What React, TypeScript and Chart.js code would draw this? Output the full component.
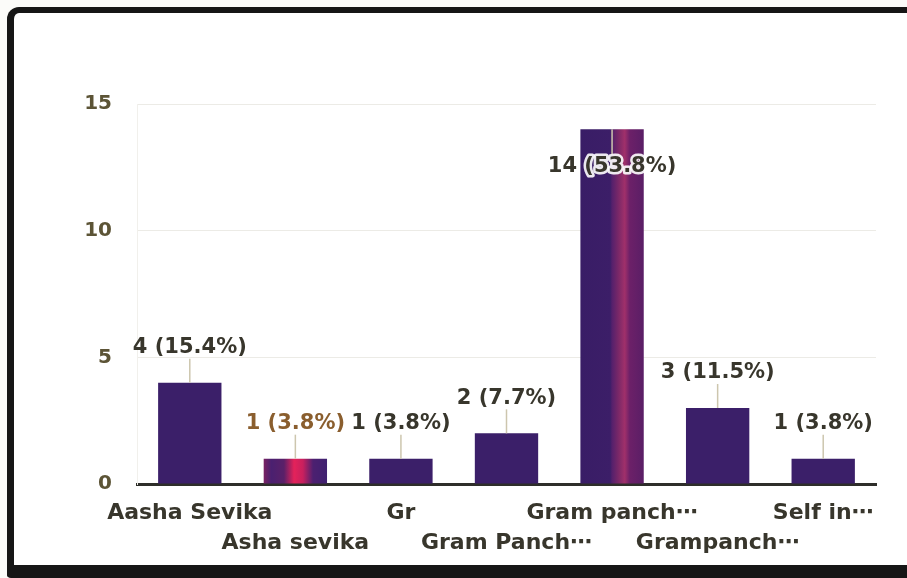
import React, { useEffect, useRef } from "react";
import { Chart, registerables } from "chart.js";

Chart.register(...registerables);

// ---- data ----
const categories = [
  "Aasha Sevika",
  "Asha sevika",
  "Gr",
  "Gram Panch⋯",
  "Gram panch⋯",
  "Grampanch⋯",
  "Self in⋯",
];
const counts = [4, 1, 1, 2, 14, 3, 1];
const percents = ["15.4%", "3.8%", "3.8%", "7.7%", "53.8%", "11.5%", "3.8%"];
const yTickValues = [0, 5, 10, 15];

// ---- styles ----
const FONT = "DejaVu Sans";
const BAR = "#3b1f69";
const TEXT = "#38362c";
const TICK = "#5c5436";
const LEADER = "#cdc6ae";
const LABEL_COLORS: Record<number, string> = { 1: "#8a5e2e" };
const GRADIENTS: Record<number, [number, string][]> = {
  1: [
    [0, "#7a2262"],
    [0.12, "#4a2070"],
    [0.32, "#5a2068"],
    [0.48, "#e4225a"],
    [0.62, "#c8205e"],
    [0.78, "#4c2070"],
    [1, "#3f2070"],
  ],
  4: [
    [0, "#391d66"],
    [0.47, "#3c1e68"],
    [0.5, "#55206c"],
    [0.6, "#7a2868"],
    [0.7, "#a0306a"],
    [0.78, "#6c2068"],
    [1, "#5a1e66"],
  ],
};

const barPct = 0.6;

const labelPlugin = {
  id: "valueLabels",
  afterDatasetsDraw(chart: any) {
    const ctx = chart.ctx as CanvasRenderingContext2D;
    const meta = chart.getDatasetMeta(0);
    const area = chart.chartArea;
    ctx.save();
    ctx.font = `bold 21px "${FONT}"`;
    ctx.textAlign = "center";
    ctx.textBaseline = "middle";
    meta.data.forEach((el: any, i: number) => {
      const x = el.x;
      const top = el.y;
      const text = `${counts[i]} (${percents[i]})`;
      const inside = top - 45 < area.top;
      let y1: number, y2: number, ty: number;
      if (inside) {
        y1 = top;
        y2 = top + 25;
        ty = top + 37;
      } else {
        y1 = top - 24;
        y2 = top;
        ty = top - 35;
      }
      ctx.strokeStyle = LEADER;
      ctx.lineWidth = 1.5;
      ctx.beginPath();
      ctx.moveTo(x, y1);
      ctx.lineTo(x, y2);
      ctx.stroke();
      if (inside) {
        ctx.strokeStyle = "rgba(255,255,255,0.9)";
        ctx.lineWidth = 5;
        ctx.lineJoin = "round";
        ctx.strokeText(text, x, ty);
      }
      ctx.fillStyle = LABEL_COLORS[i] || TEXT;
      ctx.fillText(text, x, ty);
    });
    ctx.restore();
  },
};

export default function App() {
  const canvasRef = useRef<HTMLCanvasElement | null>(null);

  useEffect(() => {
    document.body.style.margin = "0";
    const canvas = canvasRef.current;
    if (!canvas) return;
    Chart.defaults.font.family = FONT;

    const chart = new Chart(canvas, {
      type: "bar",
      data: {
        labels: categories,
        datasets: [
          {
            data: counts,
            backgroundColor: (c: any) => {
              const stops = GRADIENTS[c.dataIndex];
              const xs = c.chart.scales && c.chart.scales.x;
              if (!stops || !xs || c.dataIndex === undefined) return BAR;
              const cx = xs.getPixelForValue(c.dataIndex);
              const w = (xs.width / categories.length) * barPct;
              const g = c.chart.ctx.createLinearGradient(cx - w / 2, 0, cx + w / 2, 0);
              stops.forEach(([o, col]) => g.addColorStop(o, col));
              return g;
            },
            borderWidth: 0,
            categoryPercentage: 1,
            barPercentage: barPct,
          },
        ],
      },
      options: {
        animation: false,
        responsive: true,
        maintainAspectRatio: false,
        layout: { padding: { left: 0, right: 31, top: 104, bottom: 14 } },
        plugins: {
          legend: { display: false },
          tooltip: { enabled: false },
          title: { display: false },
        },
        scales: {
          x: {
            grid: { display: false, drawTicks: false },
            border: { display: true, color: "#2e2e2a", width: 3 },
            afterFit: (s: any) => {
              s.height = 80;
            },
            ticks: {
              autoSkip: false,
              maxRotation: 0,
              minRotation: 0,
              padding: 14,
              color: TEXT,
              font: { size: 22, weight: "bold", family: FONT, lineHeight: 1.36 },
              callback: (_v: any, i: number) =>
                i % 2 === 0 ? categories[i] : ["", categories[i]],
            },
          },
          y: {
            min: 0,
            max: 15,
            afterFit: (s: any) => {
              s.width = 137;
            },
            afterBuildTicks: (s: any) => {
              s.ticks = yTickValues.map((v) => ({ value: v }));
            },
            grid: { color: "#ecebe6", lineWidth: 1, drawTicks: false },
            border: { display: true, color: "#f1f0ec", width: 1 },
            ticks: {
              padding: 25,
              color: TICK,
              font: { size: 20, weight: "bold", family: FONT },
            },
          },
        },
      },
      plugins: [labelPlugin],
    });
    return () => chart.destroy();
  }, []);

  return (
    <div
      style={{
        position: "relative",
        width: 907,
        height: 578,
        overflow: "hidden",
        background: "#fbfbf9",
      }}
    >
      <div
        style={{
          position: "absolute",
          left: 7,
          top: 7,
          width: 960,
          height: 552,
          background: "#ffffff",
          borderTop: "6px solid #161616",
          borderLeft: "7px solid #161616",
          borderBottom: "13px solid #161616",
          borderTopLeftRadius: 12,
          borderBottomLeftRadius: 4,
        }}
      />
      <div style={{ position: "absolute", left: 0, top: 0, width: 907, height: 578 }}>
        <canvas ref={canvasRef} />
      </div>
    </div>
  );
}
